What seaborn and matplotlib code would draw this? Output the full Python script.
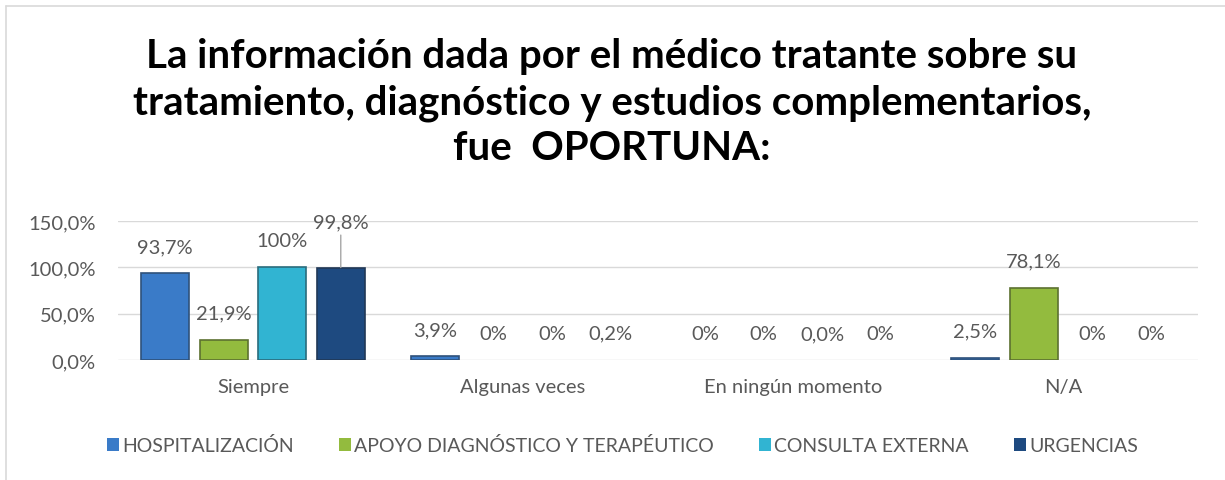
import matplotlib
matplotlib.use('Agg')
import matplotlib.pyplot as plt
import seaborn as sns
import pandas as pd
from matplotlib.lines import Line2D

categorias = ['Siempre', 'Algunas veces', 'En ningún momento', 'N/A']
servicios = ['HOSPITALIZACIÓN', 'APOYO DIAGNÓSTICO Y TERAPÉUTICO', 'CONSULTA EXTERNA', 'URGENCIAS']

hospitalizacion = [93.7, 3.9, 0.0, 2.5]
apoyo = [21.9, 0.0, 0.0, 78.1]
consulta = [100.0, 0.0, 0.0, 0.0]
urgencias = [99.8, 0.2, 0.0, 0.0]

etiquetas = {
    'HOSPITALIZACIÓN': ['93,7%', '3,9%', '0%', '2,5%'],
    'APOYO DIAGNÓSTICO Y TERAPÉUTICO': ['21,9%', '0%', '0%', '78,1%'],
    'CONSULTA EXTERNA': ['100%', '0%', '0,0%', '0%'],
    'URGENCIAS': ['99,8%', '0,2%', '0%', '0%'],
}

colores = ['#3A7BC8', '#93BB3E', '#31B4D2', '#1E4A80']

df = pd.DataFrame({
    'Respuesta': categorias * 4,
    'Servicio': [s for s in servicios for _ in categorias],
    'Valor': hospitalizacion + apoyo + consulta + urgencias,
})

sns.set_style('white')
plt.rcParams['font.family'] = ['Lato', 'DejaVu Sans']
gris = '#595959'

fig = plt.figure(figsize=(12.25, 4.81), dpi=100)
ax = fig.add_axes([0.0963, 0.2495, 0.8817, 0.289])

sns.barplot(data=df, x='Respuesta', y='Valor', hue='Servicio', order=categorias,
            hue_order=servicios, palette=colores, saturation=1, width=0.867, gap=0.18,
            linewidth=0, ax=ax)

# borde oscuro tipo bisel
for cont, c in zip(ax.containers, colores):
    for p in cont.patches:
        if p.get_height() > 1:
            p.set_edgecolor(sns.dark_palette(c, 3)[1])
            p.set_linewidth(1.2)

ax.set_ylim(0, 150)
ax.set_xlim(-0.5, 3.5)
ax.set_yticks([0, 50, 100, 150])
ax.set_yticklabels(['0,0%', '50,0%', '100,0%', '150,0%'])
ax.yaxis.grid(True, color='#D9D9D9', linewidth=1)
ax.set_axisbelow(True)
for s in ax.spines.values():
    s.set_visible(False)
ax.tick_params(axis='y', labelsize=14.5, labelcolor=gris, length=0, pad=16)
ax.tick_params(axis='x', labelsize=14.5, labelcolor=gris, length=0, pad=13)
ax.set_xlabel('')
ax.set_ylabel('')

# etiquetas de datos
for cont, serv in zip(ax.containers, servicios):
    txts = ax.bar_label(cont, labels=etiquetas[serv], padding=13, fontsize=14.5, color=gris)
    if serv == 'URGENCIAS':
        bar = cont.patches[0]
        xc = bar.get_x() + bar.get_width() / 2
        txts[0].set_visible(False)
        ax.annotate('99,8%', xy=(xc, bar.get_height()), xytext=(xc, bar.get_height() + 40),
                    ha='center', va='bottom', fontsize=14.5, color=gris,
                    arrowprops=dict(arrowstyle='-', color='#A6A6A6', lw=1,
                                    shrinkA=1, shrinkB=0))

leg = ax.legend(loc='center', bbox_to_anchor=(0.508, 0.073), bbox_transform=fig.transFigure,
                ncol=4, frameon=False, fontsize=14, handlelength=0.65, handleheight=0.65,
                handletextpad=0.15, columnspacing=2.3)
for t in leg.get_texts():
    t.set_color(gris)

fig.text(0.4996, 0.786, 'La información dada por el médico tratante sobre su\n'
         'tratamiento, diagnóstico y estudios complementarios,\nfue  OPORTUNA:',
         ha='center', va='center', fontsize=29, fontweight='bold', color='black',
         linespacing=1.29)

# borde del gráfico
fig.add_artist(Line2D([6 / 1225, 1], [1 - 7 / 481, 1 - 7 / 481], color='#D9D9D9', lw=1.2))
fig.add_artist(Line2D([6 / 1225, 6 / 1225], [0, 1 - 7 / 481], color='#D9D9D9', lw=1.2))

fig.savefig('out.png', dpi=100)
